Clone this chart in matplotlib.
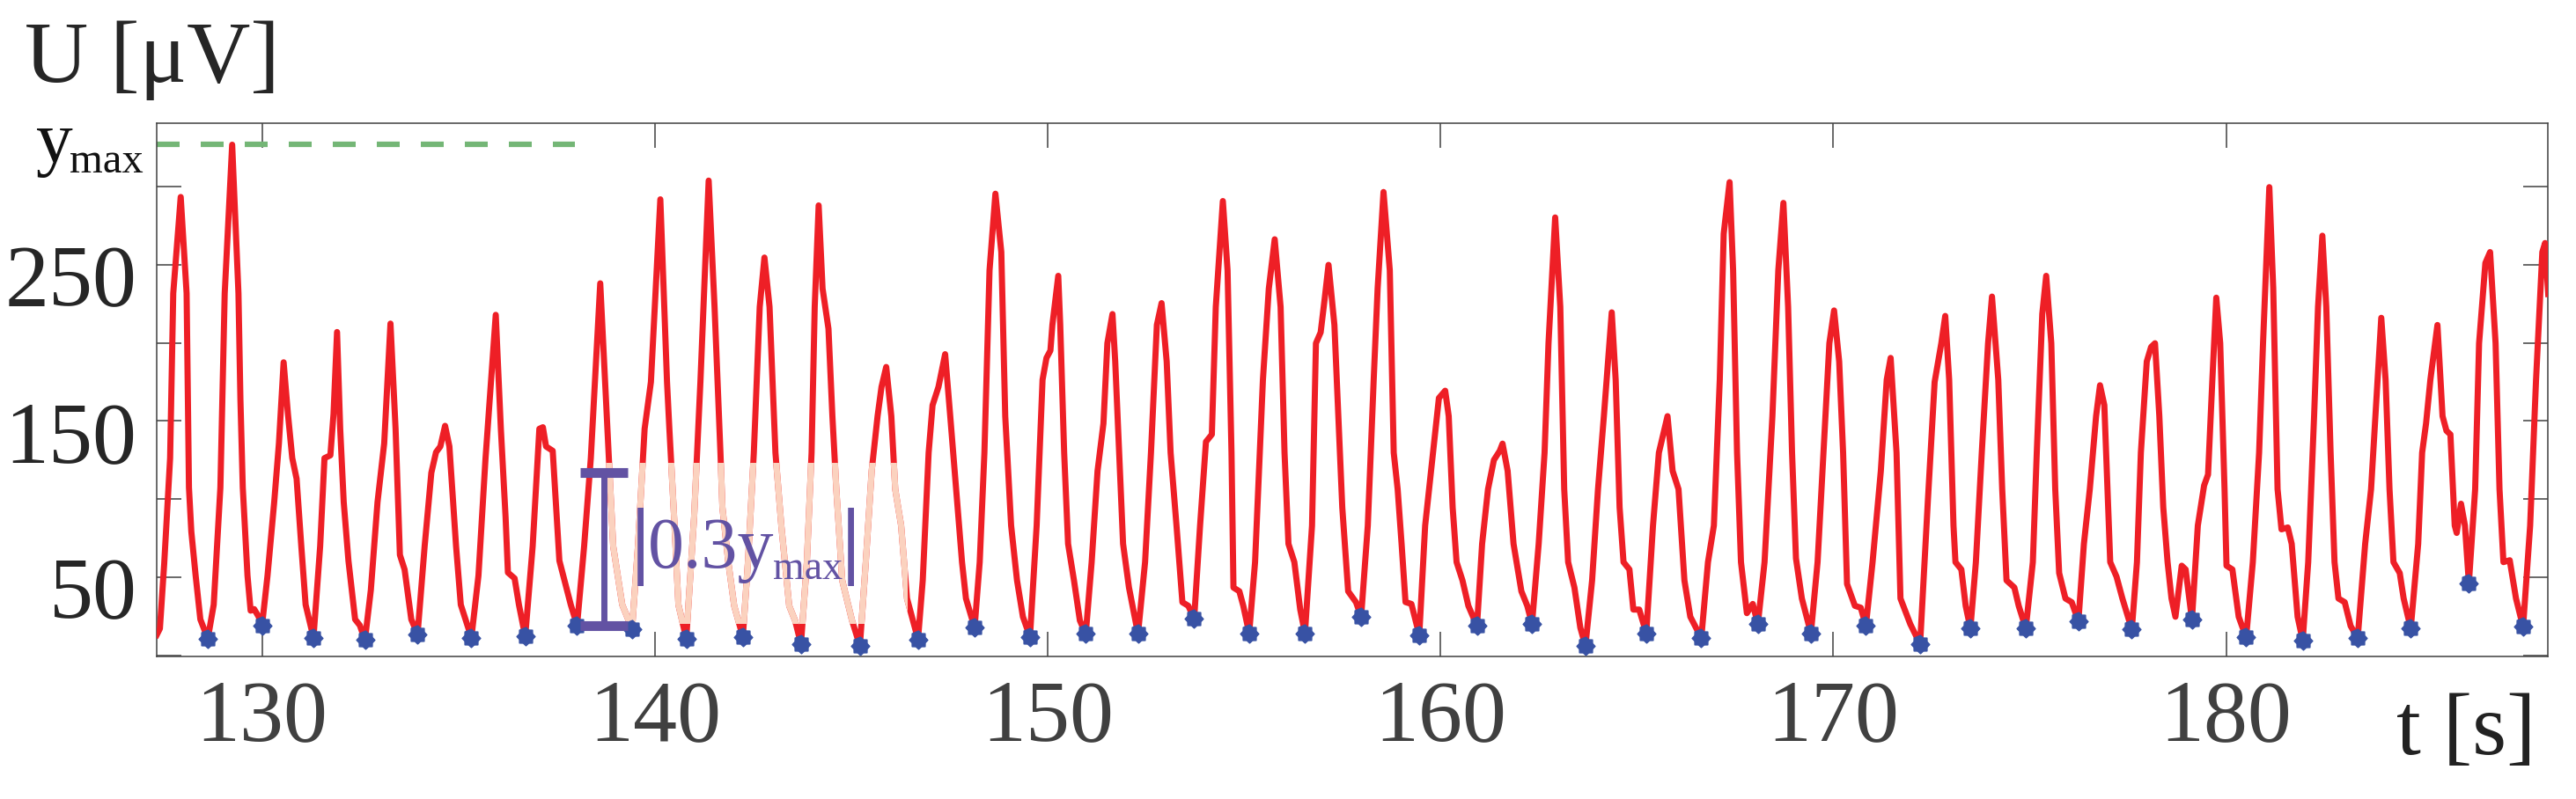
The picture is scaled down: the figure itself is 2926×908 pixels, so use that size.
import numpy as np
import matplotlib
matplotlib.use('Agg')
import matplotlib.pyplot as plt
import matplotlib.transforms as mtransforms
from matplotlib.patches import Rectangle
from matplotlib.path import Path

# --- Dados ---
t = [127.32, 127.40, 127.51, 127.66, 127.74, 127.93, 128.08, 128.14, 128.20, 128.31, 128.43, 128.62,
     128.77, 128.94, 129.05, 129.24, 129.40, 129.45, 129.51, 129.63, 129.71, 129.80, 129.91, 130.00,
     130.14, 130.31, 130.43, 130.55, 130.66, 130.77, 130.88, 131.00, 131.11, 131.31,
     131.48, 131.59, 131.74, 131.82, 131.91, 131.99, 132.08, 132.20, 132.37, 132.49, 132.62,
     132.77, 132.94, 133.11, 133.27, 133.40, 133.51, 133.63, 133.80, 133.96,
     134.14, 134.31, 134.43, 134.54, 134.66, 134.77, 134.94, 135.06, 135.33,
     135.51, 135.69, 135.95, 136.08, 136.20, 136.26, 136.43, 136.54, 136.70,
     136.89, 137.06, 137.15, 137.23, 137.40, 137.57, 137.86, 138.02,
     138.20, 138.37, 138.61, 138.83, 138.94, 139.17, 139.42,
     139.57, 139.74, 139.90, 140.14, 140.31, 140.37, 140.49, 140.60, 140.80,
     141.00, 141.16, 141.37, 141.52, 141.67, 141.72, 141.87, 142.02, 142.24,
     142.37, 142.52, 142.67, 142.79, 142.92, 143.07, 143.22, 143.42, 143.57, 143.72,
     143.87, 143.99, 144.07, 144.17, 144.27, 144.42, 144.52, 144.62, 144.77, 145.02, 145.22,
     145.37, 145.52, 145.67, 145.77, 145.89, 146.02, 146.12, 146.27, 146.42, 146.70,
     146.82, 146.97, 147.07, 147.22, 147.39, 147.52, 147.67, 147.82, 147.92, 148.14,
     148.27, 148.39, 148.52, 148.67, 148.82, 148.92, 149.07, 149.22, 149.37, 149.55,
     149.72, 149.87, 149.97, 150.07, 150.12, 150.27, 150.32, 150.42, 150.52, 150.67, 150.82, 150.97,
     151.12, 151.27, 151.42, 151.52, 151.65, 151.72, 151.82, 151.92, 152.07, 152.30,
     152.48, 152.63, 152.78, 152.90, 153.03, 153.13, 153.28, 153.43, 153.58, 153.73,
     153.88, 154.03, 154.18, 154.28, 154.46, 154.58, 154.68, 154.73, 154.88, 154.98, 155.13,
     155.28, 155.48, 155.63, 155.78, 155.93, 156.03, 156.13, 156.28, 156.43, 156.55,
     156.73, 156.83, 156.95, 157.05, 157.15, 157.30, 157.40, 157.50, 157.65, 157.85, 157.98,
     158.15, 158.30, 158.40, 158.55, 158.71, 158.81, 158.91, 159.01, 159.11, 159.26, 159.46,
     159.61, 159.81, 159.96, 160.12, 160.21, 160.31, 160.41, 160.56, 160.71, 160.93,
     161.06, 161.21, 161.36, 161.51, 161.58, 161.71, 161.86, 162.06, 162.21, 162.33,
     162.50, 162.65, 162.75, 162.92, 163.05, 163.15, 163.25, 163.41, 163.56, 163.69,
     163.86, 164.01, 164.16, 164.36, 164.46, 164.56, 164.66, 164.81, 164.91, 165.06, 165.24,
     165.41, 165.56, 165.78, 165.91, 166.06, 166.21, 166.36, 166.64,
     166.81, 166.96, 167.11, 167.21, 167.36, 167.45, 167.55, 167.65, 167.80, 167.95, 168.08,
     168.25, 168.45, 168.60, 168.73, 168.85, 168.95, 169.05, 169.20, 169.43,
     169.60, 169.75, 169.90, 170.02, 170.15, 170.25, 170.35, 170.55, 170.70, 170.83,
     171.00, 171.21, 171.36, 171.46, 171.61, 171.71, 171.96, 172.21,
     172.41, 172.58, 172.75, 172.85, 172.95, 173.06, 173.11, 173.26, 173.37, 173.49,
     173.63, 173.78, 173.94, 174.04, 174.20, 174.30, 174.41, 174.61, 174.72, 174.90,
     175.08, 175.18, 175.32, 175.42, 175.55, 175.65, 175.75, 175.91, 176.07, 176.24,
     176.38, 176.53, 176.69, 176.79, 176.90, 177.05, 177.21, 177.36, 177.60,
     177.73, 177.83, 177.98, 178.09, 178.19, 178.30, 178.40, 178.51, 178.61, 178.71, 178.87, 178.97, 179.13,
     179.28, 179.44, 179.54, 179.65, 179.75, 179.85, 179.96, 180.01, 180.16, 180.32, 180.51,
     180.68, 180.84, 180.94, 181.10, 181.20, 181.31, 181.41, 181.57, 181.67, 181.82, 181.95,
     182.09, 182.24, 182.34, 182.45, 182.55, 182.66, 182.76, 182.86, 183.02, 183.17, 183.35,
     183.54, 183.69, 183.80, 183.95, 184.06, 184.16, 184.26, 184.42, 184.52, 184.70,
     184.89, 184.99, 185.09, 185.20, 185.38, 185.51, 185.61, 185.71, 185.82, 185.87, 185.98, 186.08, 186.18,
     186.34, 186.44, 186.60, 186.72, 186.86, 186.96, 187.06, 187.22, 187.38, 187.56,
     187.74, 187.89, 188.05, 188.12, 188.20]

u = [13.0, 17.0, 58.6, 126.2, 231.8, 293.5, 231.8, 107.4, 79.2, 51.0, 22.9, 10.6,
     32.3, 107.4, 231.8, 327.0, 231.8, 163.8, 107.4, 51.0, 28.5, 29.5, 24.8, 19.0,
     51.0, 98.0, 135.6, 187.6, 154.4, 126.2, 113.0, 69.8, 32.3, 11.2,
     69.8, 126.2, 128.0, 154.4, 207.0, 145.0, 98.0, 60.5, 22.9, 19.1, 9.7,
     41.7, 98.0, 135.6, 212.4, 145.0, 64.2, 54.8, 22.9, 13.4,
     69.8, 116.8, 130.0, 133.7, 146.9, 133.7, 69.8, 32.3, 11.2,
     51.0, 126.2, 218.0, 145.0, 88.6, 52.9, 49.2, 32.3, 12.0,
     69.8, 145.0, 146.0, 133.7, 130.9, 60.5, 32.3, 19.05,
     69.8, 126.2, 238.2, 126.2, 69.8, 32.3, 16.8,
     69.8, 145.0, 175.0, 292.0, 175.0, 145.0, 88.6, 32.3, 10.6,
     88.6, 175.0, 304.0, 223.1, 129.7, 94.7, 59.6, 31.6, 11.7,
     59.6, 129.7, 223.1, 254.7, 223.1, 129.7, 83.0, 31.6, 22.2, 7.1,
     59.6, 129.7, 223.1, 288.1, 234.8, 209.1, 153.1, 106.3, 47.9, 22.2, 5.9,
     59.6, 118.0, 153.1, 171.8, 184.6, 153.1, 106.3, 83.0, 36.3, 10.1,
     47.9, 129.7, 160.1, 171.8, 192.8, 153.1, 106.3, 59.6, 36.3, 17.6,
     59.6, 129.7, 246.5, 295.6, 258.2, 153.1, 83.0, 47.9, 24.6, 11.7,
     83.0, 176.4, 190.4, 195.1, 211.5, 243.0, 211.5, 129.7, 71.3, 47.9, 22.2, 13.6,
     59.6, 118.0, 148.4, 199.8, 218.5, 188.1, 129.7, 71.3, 43.3, 13.6,
     59.6, 129.7, 211.5, 225.5, 188.1, 129.7, 83.0, 33.9, 31.6, 23.4,
     83.0, 136.7, 141.4, 223.1, 290.9, 246.5, 129.7, 43.3, 40.9, 31.6, 14.0,
     59.6, 176.4, 234.8, 266.4, 223.1, 129.7, 71.3, 59.6, 29.2, 14.0,
     83.0, 199.8, 206.8, 227.8, 250.0, 211.5, 153.1, 94.7, 40.9, 33.9, 24.6,
     83.0, 176.4, 234.8, 296.7, 246.5, 129.7, 106.3, 71.3, 34.0, 32.8, 12.9,
     83.0, 129.7, 164.7, 169.4, 153.1, 94.7, 59.6, 47.9, 31.6, 18.7,
     71.3, 106.3, 125.0, 130.9, 135.5, 118.0, 71.3, 40.9, 31.6, 19.9,
     71.3, 129.7, 199.8, 280.4, 223.1, 106.3, 59.6, 43.3, 17.6, 5.9,
     47.9, 106.3, 153.1, 219.6, 176.4, 94.7, 59.6, 54.9, 29.2, 29.2, 14.0,
     83.0, 129.7, 153.1, 118.0, 106.3, 47.9, 24.6, 11.0,
     59.6, 83.0, 176.4, 269.9, 303.0, 246.5, 129.7, 59.6, 26.9, 32.8, 19.9,
     59.6, 153.1, 246.5, 289.7, 223.1, 129.7, 62.0, 36.3, 14.0,
     59.6, 129.7, 199.8, 220.8, 188.1, 129.7, 45.6, 31.6, 30.4, 18.7,
     59.6, 118.0, 176.4, 190.4, 129.7, 36.3, 19.9, 7.1,
     100.0, 175.0, 199.8, 217.3, 176.4, 83.0, 59.6, 54.9, 31.6, 17.1,
     59.6, 129.7, 199.8, 229.7, 176.4, 106.3, 47.9, 43.3, 31.6, 17.1,
     59.6, 129.7, 218.5, 243.0, 199.8, 106.3, 52.6, 36.3, 33.9, 21.8,
     71.3, 106.3, 153.1, 172.9, 160.1, 59.6, 50.3, 36.3, 16.4,
     59.6, 129.7, 188.1, 197.4, 199.8, 153.1, 94.7, 59.6, 36.3, 24.6, 57.3, 54.9, 22.7,
     83.0, 108.7, 115.7, 176.4, 229.0, 199.8, 106.3, 57.3, 54.9, 24.6, 11.3,
     59.6, 129.7, 199.8, 299.8, 234.8, 106.3, 80.6, 81.8, 71.3, 24.6, 9.4,
     59.6, 153.1, 223.1, 268.7, 223.1, 129.7, 59.6, 36.3, 33.9, 18.7, 11.0,
     71.3, 106.3, 153.1, 216.1, 176.4, 106.3, 59.6, 52.6, 36.3, 17.1,
     71.3, 129.7, 148.4, 176.4, 211.5, 153.1, 143.7, 141.4, 83.0, 78.3, 97.0, 83.0, 46.1,
     106.3, 199.8, 251.2, 258.2, 199.8, 106.3, 59.6, 60.8, 36.3, 18.1,
     83.0, 176.4, 258.2, 264.0, 231.3]

# mínimos detectados (estrelas azuis)
min_t = [128.62, 130.00, 131.31, 132.62, 133.96, 135.33, 136.70, 138.02, 139.42, 140.80,
         142.24, 143.72, 145.22, 146.70, 148.14, 149.55, 150.97, 152.30, 153.73, 155.13,
         156.55, 157.98, 159.46, 160.93, 162.33, 163.69, 165.24, 166.64, 168.08, 169.43,
         170.83, 172.21, 173.49, 174.90, 176.24, 177.60, 179.13, 180.51, 181.95, 183.35,
         184.70, 186.18, 187.56]
min_u = [10.6, 19.0, 11.2, 9.7, 13.4, 11.2, 12.0, 19.05, 16.8, 10.6,
         11.7, 7.1, 5.9, 10.1, 17.6, 11.7, 13.6, 13.6, 23.4, 14.0,
         14.0, 24.6, 12.9, 18.7, 19.9, 5.9, 14.0, 11.0, 19.9, 14.0,
         18.7, 7.1, 17.1, 17.1, 21.8, 16.4, 22.7, 11.3, 9.4, 11.0,
         17.1, 46.1, 18.1]

y_max = 327.0
dash_end_t = 137.97          # fim da linha tracejada de y_max
bar_t = 138.70               # barra de 0.3*y_max
bar_base = 19.05
fade_t = (138.70, 146.44)    # região esmaecida
fade_u = (19.8, 123.2)
x_ticks = [130, 140, 150, 160, 170, 180]
y_ticks = [0, 50, 100, 150, 200, 250, 300]
y_labels = [50, 150, 250]

# --- Estilo ---
plt.rcParams['font.family'] = ['Liberation Serif', 'DejaVu Serif']

RED = '#EE1F26'
PEACH = '#FBD2BF'
BLUE = '#3852A4'
PURPLE = '#6252A3'
GREEN = '#74B676'
AXC = '#404040'

fig = plt.figure(figsize=(29.26, 9.08), dpi=100)
ax = fig.add_axes([177.6 / 2926, 1 - 746.3 / 908, (2894 - 177.6) / 2926, (746.3 - 140.3) / 908])

# marcador estrela de 8 pontas
ang = np.arange(16) * np.pi / 8
rad = np.where(np.arange(16) % 2 == 0, 1.0, 0.78)
star = Path(np.column_stack([rad * np.sin(ang), rad * np.cos(ang)]), closed=True)

LW = 5.0
ax.plot(t, u, color=RED, lw=LW, zorder=3, solid_joinstyle='round')
faded, = ax.plot(t, u, color=PEACH, lw=LW, zorder=3.5, solid_joinstyle='round')
clip = Rectangle((fade_t[0], fade_u[0]), fade_t[1] - fade_t[0], fade_u[1] - fade_u[0],
                 transform=ax.transData)
faded.set_clip_path(clip)

ax.plot(min_t, min_u, ls='none', marker=star, ms=15, color=BLUE, mec=BLUE, zorder=4)

ax.plot([127.31, dash_end_t], [y_max, y_max], color=GREEN, lw=4.5,
        ls=(0, (4.16, 3.84)), zorder=2)

# barra 0.3*y_max
ax.errorbar(bar_t, bar_base + 0.15 * y_max, yerr=0.15 * y_max, color=PURPLE,
            elinewidth=5.0, capsize=19.5, capthick=8.0, zorder=5)
ax.text(139.64, 56.3, '|', fontsize=70, fontweight='bold', color=PURPLE,
        ha='center', va='baseline', zorder=6)
ax.text(139.83, 56.3, '0.3y', fontsize=59, color=PURPLE, ha='left', va='baseline', zorder=6)
ax.text(143.00, 48.8, 'max', fontsize=33, color=PURPLE, ha='left', va='baseline', zorder=6)
ax.text(145.00, 56.3, '|', fontsize=70, fontweight='bold', color=PURPLE,
        ha='center', va='baseline', zorder=6)

ax.set_xlim(127.31, 188.19)
ax.set_ylim(-1.0, 340.6)
ax.set_xticks(x_ticks)
ax.set_xticklabels([str(v) for v in x_ticks])
ax.set_yticks(y_ticks)
ax.tick_params(direction='in', length=20, width=1.1, color=AXC, top=True, right=True,
               labelleft=False)
ax.tick_params(axis='x', labelsize=72, labelcolor=AXC, pad=18.7)
for s in ax.spines.values():
    s.set_color(AXC)
    s.set_linewidth(1.1)

# rótulos do eixo y
ytr = mtransforms.blended_transform_factory(fig.transFigure, ax.transData)
off = mtransforms.ScaledTranslation(0, -46.4 / 100, fig.dpi_scale_trans)
for v in y_labels:
    ax.text(155.6 / 2926, v, str(v), transform=ytr + off, fontsize=72, color='#262626',
            ha='right', va='baseline')
off_y = mtransforms.ScaledTranslation(0, -19.7 / 100, fig.dpi_scale_trans)
off_m = mtransforms.ScaledTranslation(0, -31.7 / 100, fig.dpi_scale_trans)
ax.text(41 / 2926, y_max, 'y', transform=ytr + off_y, fontsize=60, color='#111111',
        ha='left', va='baseline')
ax.text(79 / 2926, y_max, 'max', transform=ytr + off_m, fontsize=35, color='#111111',
        ha='left', va='baseline')

fig.text(28 / 2926, 1 - 93 / 908, 'U [μV]', fontsize=72, color='#262626', va='baseline')
fig.text(2880 / 2926, 1 - 857 / 908, 't [s]', fontsize=72, color='#222222',
         ha='right', va='baseline')

plt.savefig('out.png', dpi=100)
